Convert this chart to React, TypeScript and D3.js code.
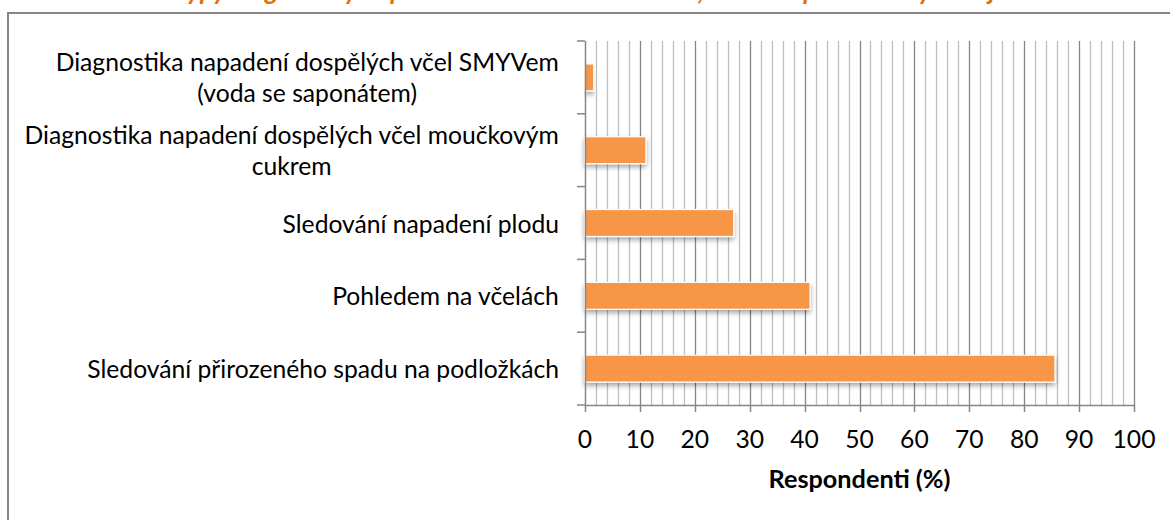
import React, { useMemo } from 'react';
import * as d3 from 'd3';

const categories: string[][] = [
  ['Diagnostika napadení dospělých včel SMYVem', '(voda se saponátem)'],
  ['Diagnostika napadení dospělých včel moučkovým', 'cukrem'],
  ['Sledování napadení plodu'],
  ['Pohledem na včelách'],
  ['Sledování přirozeného spadu na podložkách'],
];
const values: number[] = [1.6, 11.1, 27.1, 41.0, 85.6];
const xTicks: number[] = [0, 10, 20, 30, 40, 50, 60, 70, 80, 90, 100];
const minorTicks: number[] = d3.range(2, 101, 2);
const axisTitle = 'Respondenti (%)';
const chartTitle = 'Typy diagnostiky napadení včel roztočem Varroa, které respondenti využívají';

const FONT = 'Lato, "Open Sans", sans-serif';

function fitSize(text: string, target: number, weight = 'normal'): number {
  try {
    const c = document.createElement('canvas').getContext('2d');
    if (!c) return 22;
    c.font = `${weight} 100px Lato`;
    const w = c.measureText(text).width;
    return (100 * target) / w;
  } catch (e) {
    return 22;
  }
}

export default function App() {
  const W = 1170;
  const H = 520;
  const left = 585;
  const right = 1134;
  const top = 41;
  const bottom = 405;

  const labelSize = useMemo(() => fitSize('Sledování přirozeného spadu na podložkách', 472), []);
  const titleAxisSize = useMemo(() => fitSize(axisTitle, 182, 'bold'), []);
  const titleSize = useMemo(() => fitSize(chartTitle, 880, 'bold'), []);

  const x = d3.scaleLinear().domain([0, 100]).range([left, right]);
  const ids = categories.map((_, i) => String(i));
  const y = d3.scaleBand<string>().domain(ids).range([top, bottom]).paddingInner(0.63).paddingOuter(0.315);
  const step = y.step();
  const boundaries = d3.range(0, categories.length + 1).map((i) => top + i * step);

  const lineH = 31;

  const measure = (l: string) => {
    const c = document.createElement('canvas').getContext('2d');
    if (!c) return l.length * 11;
    c.font = `${labelSize}px Lato`;
    return c.measureText(l).width;
  };

  return (
    <svg
      width={W}
      height={H}
      style={{ position: 'absolute', left: 0, top: 0, background: '#fff' }}
      fontFamily={FONT}
    >
      <defs>
        <filter id="shadow" x="-10%" y="-50%" width="120%" height="220%">
          <feDropShadow dx="0" dy="3" stdDeviation="2.5" floodColor="#000" floodOpacity="0.35" />
        </filter>
      </defs>
      <rect x={0} y={0} width={W} height={H} fill="#fff" />
      {/* title, mostly cut off at the top edge as in the reference */}
      <text
        x={588}
        y={-0.5}
        textAnchor="middle"
        fill="#E46C0A"
        fontWeight="bold"
        fontStyle="italic"
        fontSize={titleSize}
      >
        {chartTitle}
      </text>
      {/* outer border */}
      <rect x={8} y={13} width={W + 20} height={H + 20} fill="none" stroke="#868686" strokeWidth={2} />

      {/* gridlines */}
      {minorTicks.map((t) => (
        <line
          key={'m' + t}
          x1={Math.round(x(t)) + 0.5}
          x2={Math.round(x(t)) + 0.5}
          y1={top}
          y2={bottom}
          stroke={t % 10 === 0 ? '#868686' : '#BFBFBF'}
          strokeWidth={1.3}
        />
      ))}

      {/* bars */}
      {values.map((v, i) => (
        <rect
          key={'b' + i}
          x={x(0)}
          y={y(String(i))}
          width={x(v) - x(0)}
          height={y.bandwidth()}
          fill="#F79646"
          stroke="#fff"
          strokeWidth={1.2}
          filter="url(#shadow)"
        />
      ))}

      {/* y axis */}
      <line x1={left + 0.5} x2={left + 0.5} y1={top} y2={bottom} stroke="#868686" strokeWidth={1.5} />
      {boundaries.map((b, i) => (
        <line key={'yt' + i} x1={left - 8} x2={left} y1={b} y2={b} stroke="#868686" strokeWidth={1.5} />
      ))}

      {/* x axis */}
      <line x1={left} x2={right + 0.5} y1={bottom + 0.5} y2={bottom + 0.5} stroke="#868686" strokeWidth={1.5} />
      {xTicks.map((t) => (
        <g key={'xt' + t}>
          <line
            x1={Math.round(x(t)) + 0.5}
            x2={Math.round(x(t)) + 0.5}
            y1={bottom}
            y2={bottom + 7}
            stroke="#868686"
            strokeWidth={1.5}
          />
          <text x={x(t)} y={438} textAnchor="middle" dominantBaseline="central" fontSize={labelSize} fill="#000">
            {t}
          </text>
        </g>
      ))}

      {/* category labels */}
      {categories.map((lines, i) => {
        const cy = (y(String(i)) as number) + y.bandwidth() / 2;
        const maxW = Math.max(...lines.map(measure));
        const cx = 559 - maxW / 2;
        return lines.map((l, j) => (
          <text
            key={'c' + i + '-' + j}
            x={cx}
            y={cy + (j - (lines.length - 1) / 2) * lineH}
            textAnchor="middle"
            dominantBaseline="central"
            fontSize={labelSize}
            fill="#000"
          >
            {l}
          </text>
        ));
      })}

      {/* axis title */}
      <text
        x={(left + right) / 2}
        y={478}
        textAnchor="middle"
        dominantBaseline="central"
        fontWeight="bold"
        fontSize={titleAxisSize}
        fill="#000"
      >
        {axisTitle}
      </text>
    </svg>
  );
}
